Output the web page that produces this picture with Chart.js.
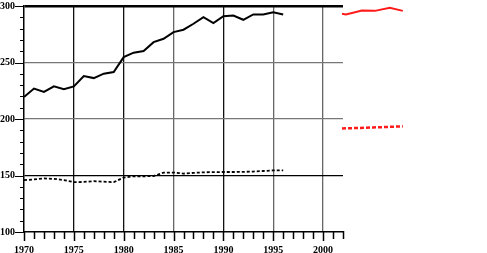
<!DOCTYPE html>
<html>
<head>
<meta charset="utf-8">
<script src="https://cdn.jsdelivr.net/npm/chart.js@4.4.1/dist/chart.umd.min.js"></script>
<style>
html,body{margin:0;padding:0;background:#fff;}
#c{display:block;}
</style>
</head>
<body>
<canvas id="c" width="487" height="253"></canvas>
<script>
const years = [1970,1971,1972,1973,1974,1975,1976,1977,1978,1979,1980,1981,1982,1983,1984,1985,1986,1987,1988,1989,1990,1991,1992,1993,1994,1995,1996];
const solidSeries = [219.5,226.9,223.9,228.9,226.3,228.9,238,236.2,240.1,241.5,254.8,258.7,260.1,268,271,276.9,279,284.3,290.1,284.8,291,291.6,287.8,292.5,292.5,294.5,292.5];
const dashedSeries = [145.9,146.5,147.4,147.0,146.0,144.1,144.3,145.0,144.5,144.1,148.2,149.3,149.3,149.5,152.6,152.6,151.7,152.3,152.8,153.0,153.1,153.1,153.2,153.5,154.0,154.5,154.5];
const redSolidYears = [2001.9,2002.3,2003.9,2005.2,2006.7,2008];
const redSolidSeries = [293.2,292.6,296.0,295.7,298.4,295.7];
const redDashedYears = [2001.9,2005,2008];
const redDashedSeries = [191.6,192.5,193.5];
const yTickLabels = [100,150,200,250,300];
const xTickLabels = [1970,1975,1980,1985,1990,1995,2000];
const xMinorTicks = [1970,1971,1972,1973,1974,1975,1976,1977,1978,1979,1980,1981,1982,1983,1984,1985,1986,1987,1988,1989,1990,1991,1992,1993,1994,1995,1996,1997,1998,1999,2000,2001,2002];

const toXY = (xs, ys) => xs.map((x, i) => ({x: x, y: ys[i]}));
const FONT = {family: 'Liberation Serif', size: 10, weight: 'bold'};

// draws tick marks (minor and major) along both axes using the chart's scales
const tickMarks = {
  id: 'tickMarks',
  afterDraw(chart) {
    const ctx = chart.ctx;
    const xs = chart.scales.x, ys = chart.scales.y;
    const base = chart.chartArea.bottom;
    ctx.save();
    ctx.strokeStyle = '#000';
    ctx.lineWidth = 1.5;
    xMinorTicks.forEach(v => {
      const px = Math.round(xs.getPixelForValue(v)) + 0.5;
      const len = xTickLabels.includes(v) ? 9 : 7;
      ctx.beginPath();
      ctx.moveTo(px, base - 1);
      ctx.lineTo(px, base + len);
      ctx.stroke();
    });
    ctx.lineWidth = 1;
    ys.ticks.forEach(t => {
      const py = Math.round(ys.getPixelForValue(t.value)) + 0.5;
      const len = yTickLabels.includes(t.value) ? 9 : 4;
      ctx.beginPath();
      ctx.moveTo(ys.right, py);
      ctx.lineTo(ys.right - len, py);
      ctx.stroke();
    });
    ctx.restore();
  }
};

new Chart(document.getElementById('c'), {
  type: 'line',
  data: {
    datasets: [
      {data: toXY(years, solidSeries), borderColor: '#000', borderWidth: 2, pointRadius: 0, tension: 0},
      {data: toXY(years, dashedSeries), borderColor: '#000', borderWidth: 1.8, borderDash: [3,2], pointRadius: 0, tension: 0},
      {data: toXY(redSolidYears, redSolidSeries), borderColor: '#ff1a1a', borderWidth: 2, pointRadius: 0, tension: 0, clip: false},
      {data: toXY(redDashedYears, redDashedSeries), borderColor: '#ff1a1a', borderWidth: 2.5, borderDash: [4,2], pointRadius: 0, tension: 0, clip: false}
    ]
  },
  plugins: [tickMarks],
  options: {
    responsive: false,
    animation: false,
    devicePixelRatio: 1,
    layout: {padding: {top: 0, right: 144, left: 0, bottom: 0}},
    plugins: {legend: {display: false}, tooltip: {enabled: false}},
    scales: {
      x: {
        type: 'linear',
        afterDataLimits: (s) => { s.min = 1970; s.max = 2002; },
        afterFit: (s) => { s.height = 21; },
        ticks: {
          stepSize: 1,
          autoSkip: false,
          maxRotation: 0,
          padding: 12,
          color: '#000',
          font: FONT,
          callback: (v) => xTickLabels.includes(v) ? String(v) : ''
        },
        grid: {
          drawTicks: false,
          color: (ctx) => {
            const v = ctx.tick && ctx.tick.value;
            if (v === 1970) return 'rgba(0,0,0,0)';
            if (v === 1975 || v === 1980 || v === 1990) return '#111';
            if (v % 5 === 0) return '#666';
            return 'rgba(0,0,0,0)';
          },
          lineWidth: 1.3
        },
        border: {display: true, color: '#000', width: 1.5}
      },
      y: {
        min: 100,
        max: 300,
        afterFit: (s) => { s.width = 24; },
        ticks: {
          stepSize: 10,
          autoSkip: false,
          padding: 0,
          crossAlign: 'far',
          color: '#000',
          font: FONT,
          callback: (v) => yTickLabels.includes(v) ? String(v) : ''
        },
        grid: {
          drawTicks: false,
          color: (ctx) => {
            const v = ctx.tick && ctx.tick.value;
            if (v === 300 || v === 150) return '#000';
            if (v === 250 || v === 200) return '#777';
            return 'rgba(0,0,0,0)';
          },
          lineWidth: (ctx) => (ctx.tick && ctx.tick.value === 300) ? 2.5 : 1.3
        },
        border: {display: true, color: '#000', width: 1.5}
      }
    }
  }
});
</script>
</body>
</html>
